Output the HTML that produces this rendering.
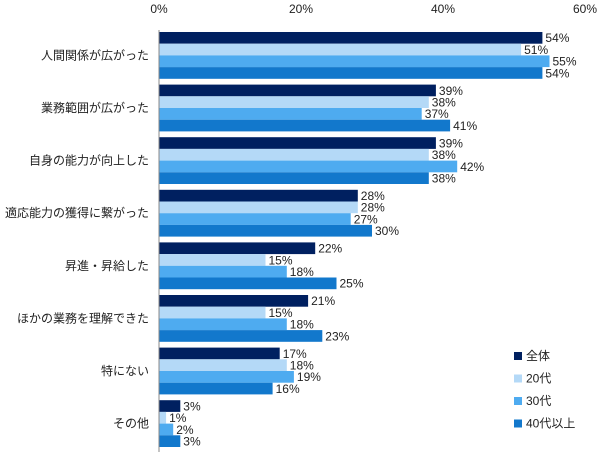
<!DOCTYPE html>
<html><head><meta charset="utf-8"><style>
body{margin:0;background:#fff;font-family:"Liberation Sans","Noto Sans CJK JP",sans-serif;}
svg text{font-family:"Liberation Sans","Noto Sans CJK JP",sans-serif;font-size:12px;fill:#222;}
</style></head><body>
<svg id="c" width="605" height="455"></svg>
<script>
const categories=["人間関係が広がった","業務範囲が広がった","自身の能力が向上した","適応能力の獲得に繋がった","昇進・昇給した","ほかの業務を理解できた","特にない","その他"];
const seriesNames=["全体","20代","30代","40代以上"];
const seriesAll=[54,39,39,28,22,21,17,3];
const series20=[51,38,38,28,15,15,18,1];
const series30=[55,37,42,27,18,18,19,2];
const series40=[54,41,38,30,25,23,16,3];
const ticks=[0,20,40,60];
const colors=["#002060","#b4d9f7","#4eabf0","#1278cc"];
const series=[seriesAll,series20,series30,series40];
const svg=document.getElementById('c');
const NS="http://www.w3.org/2000/svg";
const x0=159,pxPer=7.1;
const xs=v=>x0+v*pxPer;
const groupY=i=>32+i*52.6;
const bh=11.7;
function mk(t,a){const e=document.createElementNS(NS,t);for(const k in a)e.setAttribute(k,a[k]);svg.appendChild(e);return e;}
ticks.forEach(t=>{const e=mk('text',{x:xs(t),y:13,'text-anchor':'middle'});e.textContent=t+'%';

});
categories.forEach((c,i)=>{
 const e=mk('text',{x:149,y:groupY(i)+bh*2+4,'text-anchor':'end'});e.textContent=c;
 
 
 series.forEach((s,j)=>{
  const y=groupY(i)+j*bh;
  const r=mk('rect',{x:x0,y:y,width:s[i]*pxPer,height:bh,fill:colors[j]});
  
  
  const t=mk('text',{x:xs(s[i])+3,y:y+bh-1.5});t.textContent=s[i]+'%';
  
  
 });
});
const ax=mk('line',{x1:x0,y1:30,x2:x0,y2:452,stroke:'#888','stroke-width':1});


seriesNames.forEach((n,j)=>{
 const y=356+j*22.5;
 const r=mk('rect',{x:514,y:y-4,width:8,height:8,fill:colors[j]});
 
 
 const t=mk('text',{x:526,y:y+4});t.textContent=n;
 
 
});
</script>
</body></html>
